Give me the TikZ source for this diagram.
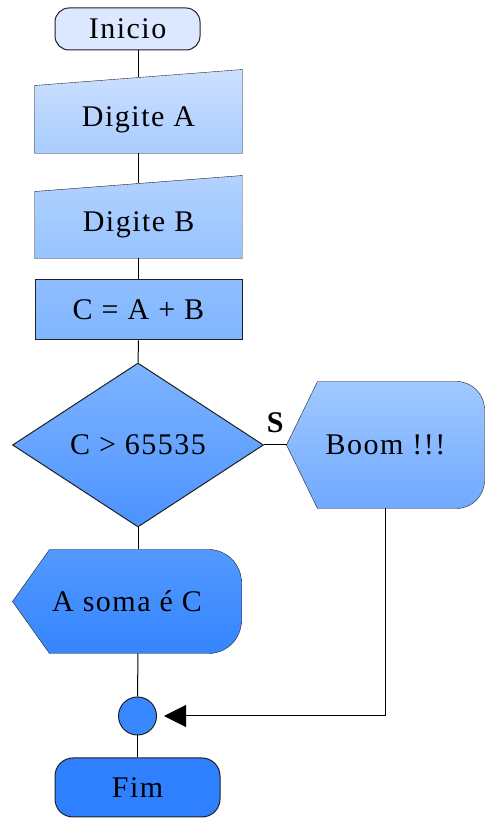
\documentclass[tikz,border=0pt]{standalone}
\usepackage{fontspec}
\setmainfont[LetterSpace=5]{Liberation Serif}
\usetikzlibrary{shapes.geometric,arrows.meta,backgrounds}
\definecolor{azulA}{HTML}{DCE8FF}
\definecolor{azulB}{HTML}{CCE0FF}
\definecolor{azulC}{HTML}{A8CCFF}
\definecolor{azulD}{HTML}{B3D2FF}
\definecolor{azulE}{HTML}{96C3FF}
\definecolor{azulF}{HTML}{8FBEFF}
\definecolor{azulG}{HTML}{80B5FF}
\definecolor{azulH}{HTML}{7EB4FF}
\definecolor{azulI}{HTML}{4C93FF}
\definecolor{azulJ}{HTML}{A0C9FF}
\definecolor{azulK}{HTML}{70A9FF}
\definecolor{azulL}{HTML}{5299FF}
\definecolor{azulM}{HTML}{3585FF}
\definecolor{azulN}{HTML}{3A88FF}
\definecolor{azulO}{HTML}{2F80FF}
\definecolor{borda}{HTML}{202020}
\begin{document}
\begin{tikzpicture}[x=1pt,y=1pt,line width=1pt]
      \tikzstyle{every node}=[font=\fontsize{30}{34}\selectfont, inner sep=0pt]
      \tikzstyle{terminal}=[rectangle, draw=borda, rounded corners=14pt]
      \tikzstyle{bloco}=[rectangle, minimum width=207pt]
      \tikzstyle{forma}=[draw=borda]
      \useasboundingbox (0,0) rectangle (485,819);

      \node[terminal, minimum width=145pt, minimum height=42pt, fill=azulA] (ini) at (127.5,790) {Inicio};
      \node[bloco, minimum height=67pt] (da) at (138.5,699.5) {Digite A};
      \node[bloco, minimum height=66pt] (db) at (138.5,594) {Digite B};
      \node[bloco, draw=borda, minimum height=60pt, top color=azulF, bottom color=azulG] (cab) at (138.5,509) {C = A + B};
      \node[diamond, draw=borda, minimum width=251pt, minimum height=164pt, top color=azulH, bottom color=azulI] (dec) at (138,374) {C > 65535};
      \node[minimum width=197pt, minimum height=126pt] (boom) at (385.5,374) {Boom !!!};
      \node[minimum width=228pt, minimum height=103pt] (soma) at (127,217.5) {A soma é C};
      \node[circle, draw=borda, minimum size=38pt, fill=azulN] (junta) at (137.5,103) {};
      \node[terminal, rounded corners=18pt, minimum width=165pt, minimum height=59pt, fill=azulO] (fim) at (137.5,31.5) {Fim};

      \begin{scope}[on background layer]
        \draw[forma, top color=azulB, bottom color=azulC] (da.south west) -- (da.south east) -- ([yshift=16pt]da.north east) -- (da.north west) -- cycle;
        \draw[forma, top color=azulD, bottom color=azulE] (db.south west) -- (db.south east) -- ([yshift=16pt]db.north east) -- (db.north west) -- cycle;
        \draw[forma, top color=azulJ, bottom color=azulK] (boom.west) -- ([xshift=31pt]boom.north west) -- ([xshift=-28pt]boom.north east)
          arc[start angle=90, end angle=0, radius=28pt] -- ([yshift=28pt]boom.south east)
          arc[start angle=0, end angle=-90, radius=28pt] -- ([xshift=31pt]boom.south west) -- cycle;
        \draw[forma, top color=azulL, bottom color=azulM] (soma.west) -- ([xshift=37pt]soma.north west) -- ([xshift=-33pt]soma.north east)
          arc[start angle=90, end angle=0, radius=33pt] -- ([yshift=33pt]soma.south east)
          arc[start angle=0, end angle=-90, radius=33pt] -- ([xshift=37pt]soma.south west) -- cycle;
      \end{scope}

      \draw (ini.south -| da.north) -- ([yshift=8pt]da.north);
      \draw (da.south) -- ([yshift=8pt]db.north);
      \draw (db.south) -- (cab.north);
      \draw (cab.south) -- (dec.north);
      \draw (dec.east) -- node[above=12pt, font=\fontsize{30}{34}\selectfont\bfseries] {S} (boom.west);
      \draw (dec.south) -- (dec.south |- soma.north);
      \draw (dec.south |- soma.south) -- (junta.north);
      \draw (junta.south) -- (fim.north);
      \draw[-{Triangle[length=22pt,width=22pt]}, shorten >=7pt] (boom.south) |- (junta.east);
    \end{tikzpicture}
\end{document}
